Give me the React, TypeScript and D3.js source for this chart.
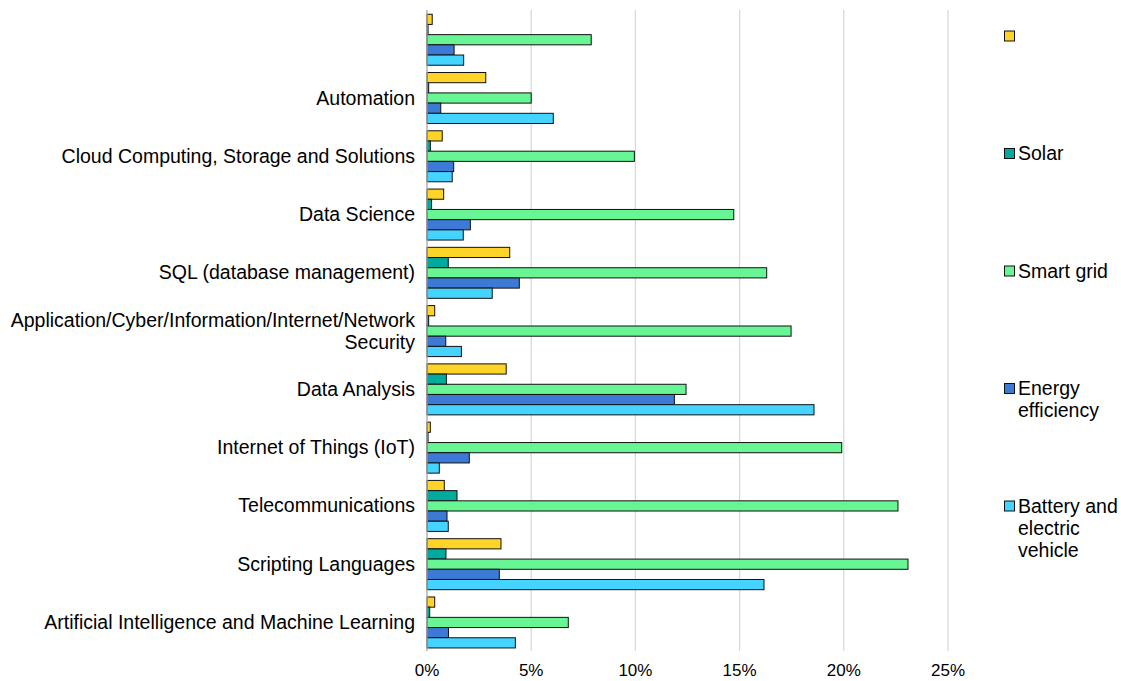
import React, { useEffect, useRef } from 'react';
import * as d3 from 'd3';

const categories = [
  '',
  'Automation',
  'Cloud Computing, Storage and Solutions',
  'Data Science',
  'SQL (database management)',
  'Application/Cyber/Information/Internet/Network\nSecurity',
  'Data Analysis',
  'Internet of Things (IoT)',
  'Telecommunications',
  'Scripting Languages',
  'Artificial Intelligence and Machine Learning',
];

const seriesNames = ['', 'Solar', 'Smart grid', 'Energy\nefficiency', 'Battery and\nelectric\nvehicle'];
const seriesColors = ['#FFD428', '#00AA9C', '#68F594', '#3C7AD6', '#45D3FF'];

// values in %
const blankValues = [0.25, 2.82, 0.73, 0.8, 3.97, 0.37, 3.8, 0.16, 0.83, 3.55, 0.37];
const solarValues = [0.05, 0.08, 0.16, 0.22, 1.02, 0.08, 0.93, 0.05, 1.44, 0.91, 0.13];
const smartGridValues = [7.88, 5.0, 9.95, 14.72, 16.3, 17.47, 12.43, 19.9, 22.6, 23.08, 6.78];
const energyValues = [1.3, 0.66, 1.28, 2.08, 4.43, 0.9, 11.87, 2.03, 0.96, 3.47, 1.03];
const batteryValues = [1.76, 6.06, 1.21, 1.74, 3.13, 1.65, 18.57, 0.59, 1.02, 16.17, 4.24];

const tickValues = [0, 5, 10, 15, 20, 25];

const App = () => {
  const svgRef = useRef<SVGSVGElement>(null);

  useEffect(() => {
    const width = 1121;
    const height = 681;
    const svg = d3.select(svgRef.current).attr('width', width).attr('height', height);
    svg.selectAll('*').remove();

    const font = 'Liberation Sans, Arial, sans-serif';
    const labelSize = 19.5;
    const allSeries = [blankValues, solarValues, smartGridValues, energyValues, batteryValues];

    const x = d3.scaleLinear().domain([0, 25]).range([427, 948]);
    const y = d3.scaleBand<number>()
      .domain(d3.range(categories.length))
      .range([10.6, 651.6])
      .paddingInner(0.125)
      .paddingOuter(0.0625);
    const ySub = d3.scaleBand<number>()
      .domain(d3.range(allSeries.length))
      .range([0, y.bandwidth()]);

    // gridlines
    svg.append('g')
      .selectAll('line')
      .data(tickValues.filter(t => t > 0))
      .enter()
      .append('line')
      .attr('x1', d => x(d))
      .attr('x2', d => x(d))
      .attr('y1', 10)
      .attr('y2', 651)
      .attr('stroke', '#d9d9d9')
      .attr('stroke-width', 1.3);

    // bars
    allSeries.forEach((values, si) => {
      svg.append('g')
        .selectAll('rect')
        .data(values)
        .enter()
        .append('rect')
        .attr('x', x(0))
        .attr('y', (d, i) => (y(i) as number) + (ySub(si) as number))
        .attr('width', d => x(d) - x(0))
        .attr('height', ySub.bandwidth())
        .attr('fill', seriesColors[si])
        .attr('stroke', '#111')
        .attr('stroke-width', 1);
    });

    // axis line
    svg.append('line')
      .attr('x1', x(0))
      .attr('x2', x(0))
      .attr('y1', 10)
      .attr('y2', 651)
      .attr('stroke', '#a6a6a6')
      .attr('stroke-width', 1.3);

    // category labels
    categories.forEach((c, i) => {
      const lines = c.split('\n');
      const cy = (y(i) as number) + y.bandwidth() / 2;
      const t = svg.append('text')
        .attr('x', 415)
        .attr('text-anchor', 'end')
        .attr('font-family', font)
        .attr('font-size', labelSize)
        .attr('fill', '#000');
      lines.forEach((ln, li) => {
        t.append('tspan')
          .attr('x', 415)
          .attr('y', cy + 6.5 + (li - (lines.length - 1) / 2) * 22)
          .text(ln);
      });
    });

    // x tick labels
    svg.append('g')
      .selectAll('text')
      .data(tickValues)
      .enter()
      .append('text')
      .attr('x', d => x(d))
      .attr('y', 676)
      .attr('text-anchor', 'middle')
      .attr('font-family', font)
      .attr('font-size', 17)
      .text(d => `${d}%`);

    // legend
    seriesNames.forEach((name, si) => {
      const ly = 36 + si * 117.5;
      svg.append('rect')
        .attr('x', 1004.5)
        .attr('y', ly - 5)
        .attr('width', 10)
        .attr('height', 10)
        .attr('fill', seriesColors[si])
        .attr('stroke', '#111')
        .attr('stroke-width', 1);
      const t = svg.append('text')
        .attr('font-family', font)
        .attr('font-size', labelSize)
        .attr('fill', '#000');
      name.split('\n').forEach((ln, li) => {
        t.append('tspan')
          .attr('x', 1018)
          .attr('y', ly + 6.5 + li * 22)
          .text(ln);
      });
    });
  }, []);

  return (
    <svg ref={svgRef} style={{ position: 'absolute', left: 0, top: 0, background: '#fff' }}></svg>
  );
};

export default App;
